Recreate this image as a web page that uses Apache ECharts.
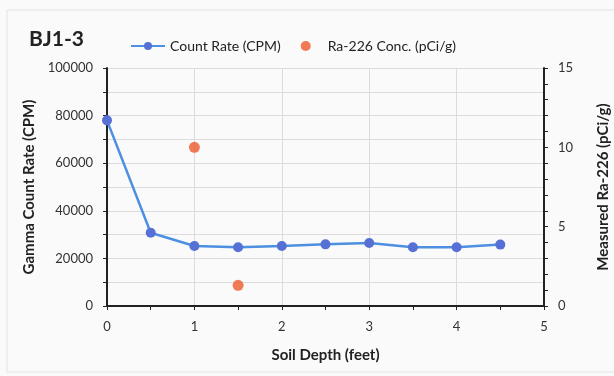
<!DOCTYPE html>
<html>
<head>
  <meta charset="utf-8" />
  <title>BJ1-3</title>
  <style>
    html, body { margin: 0; padding: 0; background: #fafafa; }
    #chartBox { width: 614px; height: 376px; }
  </style>
</head>
<body>
  <div id="chartBox"></div>
  <script src="https://cdn.jsdelivr.net/npm/echarts@6/dist/echarts.min.js"></script>
  <script>
    // depth (feet) vs gamma count rate
    var depthArr = [0, 0.5, 1, 1.5, 2, 2.5, 3, 3.5, 4, 4.5];
    var countArr = [78000, 30800, 25200, 24700, 25200, 25900, 26500, 24700, 24700, 25800];
    // Ra-226 samples
    var raDepthArr = [1, 1.5];
    var raConcArr = [10.0, 1.3];

    var _font = 'Lato, "Open Sans", sans-serif';
    var _axisColor = '#222';

    function pairs(xs, ys) {
      var out = [];
      for (var i = 0; i < xs.length; i++) {
        out.push([xs[i], ys[i]]);
      }
      return out;
    }
    function plain(v) { return String(v); }

    var myChart = echarts.init(document.getElementById('chartBox'));
    var option = {
      backgroundColor: '#fafafa',
      textStyle: { fontFamily: _font },
      graphic: [{
        type: 'rect',
        shape: { x: 7, y: 10, width: 620, height: 362 },
        style: { fill: 'none', stroke: '#e4e4e4', lineWidth: 1 },
        silent: true
      }],
      title: {
        text: 'BJ1-3',
        left: 24,
        top: 24,
        textStyle: { fontSize: 21, fontWeight: 'bold', color: '#222', fontFamily: _font }
      },
      legend: {
        top: 34,
        left: 125,
        itemGap: 20,
        itemWidth: 34,
        itemHeight: 10,
        textStyle: { fontSize: 14, color: '#222', fontFamily: _font },
        data: [
          { name: 'Count Rate (CPM)' },
          { name: 'Ra-226 Conc. (pCi/g)', itemStyle: { color: '#ee5a2c' } }
        ]
      },
      grid: { left: 107, right: 70, top: 68, bottom: 70, outerBoundsMode: 'none' },
      xAxis: {
        type: 'value',
        min: 0,
        max: 5,
        interval: 1,
        name: 'Soil Depth (feet)',
        nameLocation: 'middle',
        nameGap: 42,
        nameTextStyle: { fontSize: 15, fontWeight: 'bold', color: '#222' },
        axisLine: { show: true, lineStyle: { color: _axisColor, width: 2 } },
        axisTick: { show: true, length: 4, lineStyle: { color: _axisColor } },
        minorTick: { show: true, splitNumber: 2, length: 4, lineStyle: { color: _axisColor } },
        axisLabel: { fontSize: 13, color: '#333', margin: 14, formatter: plain },
        splitLine: { show: true, lineStyle: { color: '#dcdcdc' } }
      },
      yAxis: [{
        type: 'value',
        min: 0,
        max: 100000,
        interval: 20000,
        name: 'Gamma Count Rate (CPM)',
        nameLocation: 'middle',
        nameGap: 70,
        nameTextStyle: { fontSize: 15, fontWeight: 'bold', color: '#222' },
        axisLine: { show: true, lineStyle: { color: _axisColor, width: 2 } },
        axisTick: { show: true, length: 4, lineStyle: { color: _axisColor } },
        minorTick: { show: true, splitNumber: 2, length: 4, lineStyle: { color: _axisColor } },
        axisLabel: { fontSize: 13, color: '#333', margin: 14, formatter: plain },
        splitLine: { show: true, lineStyle: { color: '#dcdcdc' } },
        minorSplitLine: { show: true, lineStyle: { color: '#dcdcdc' } }
      }, {
        type: 'value',
        position: 'right',
        min: 0,
        max: 15,
        interval: 5,
        name: 'Measured Ra-226 (pCi/g)',
        nameLocation: 'middle',
        nameGap: 52,
        nameRotate: 90,
        nameTextStyle: { fontSize: 15, fontWeight: 'bold', color: '#222' },
        axisLine: { show: true, lineStyle: { color: _axisColor, width: 2 } },
        axisTick: { show: true, length: 4, lineStyle: { color: _axisColor } },
        minorTick: { show: true, splitNumber: 5, length: 4, lineStyle: { color: _axisColor } },
        axisLabel: { fontSize: 13, color: '#333', margin: 14, formatter: plain },
        splitLine: { show: false }
      }],
      series: [{
        name: 'Count Rate (CPM)',
        type: 'line',
        yAxisIndex: 0,
        symbol: 'circle',
        symbolSize: 10,
        lineStyle: { color: '#4d8fe0', width: 2.5 },
        itemStyle: { color: '#5670d6' },
        data: pairs(depthArr, countArr)
      }, {
        name: 'Ra-226 Conc. (pCi/g)',
        type: 'scatter',
        yAxisIndex: 1,
        symbol: 'circle',
        symbolSize: 11,
        itemStyle: { color: '#ee5a2c' },
        data: pairs(raDepthArr, raConcArr)
      }]
    };
    myChart.setOption(option);
  </script>
</body>
</html>
